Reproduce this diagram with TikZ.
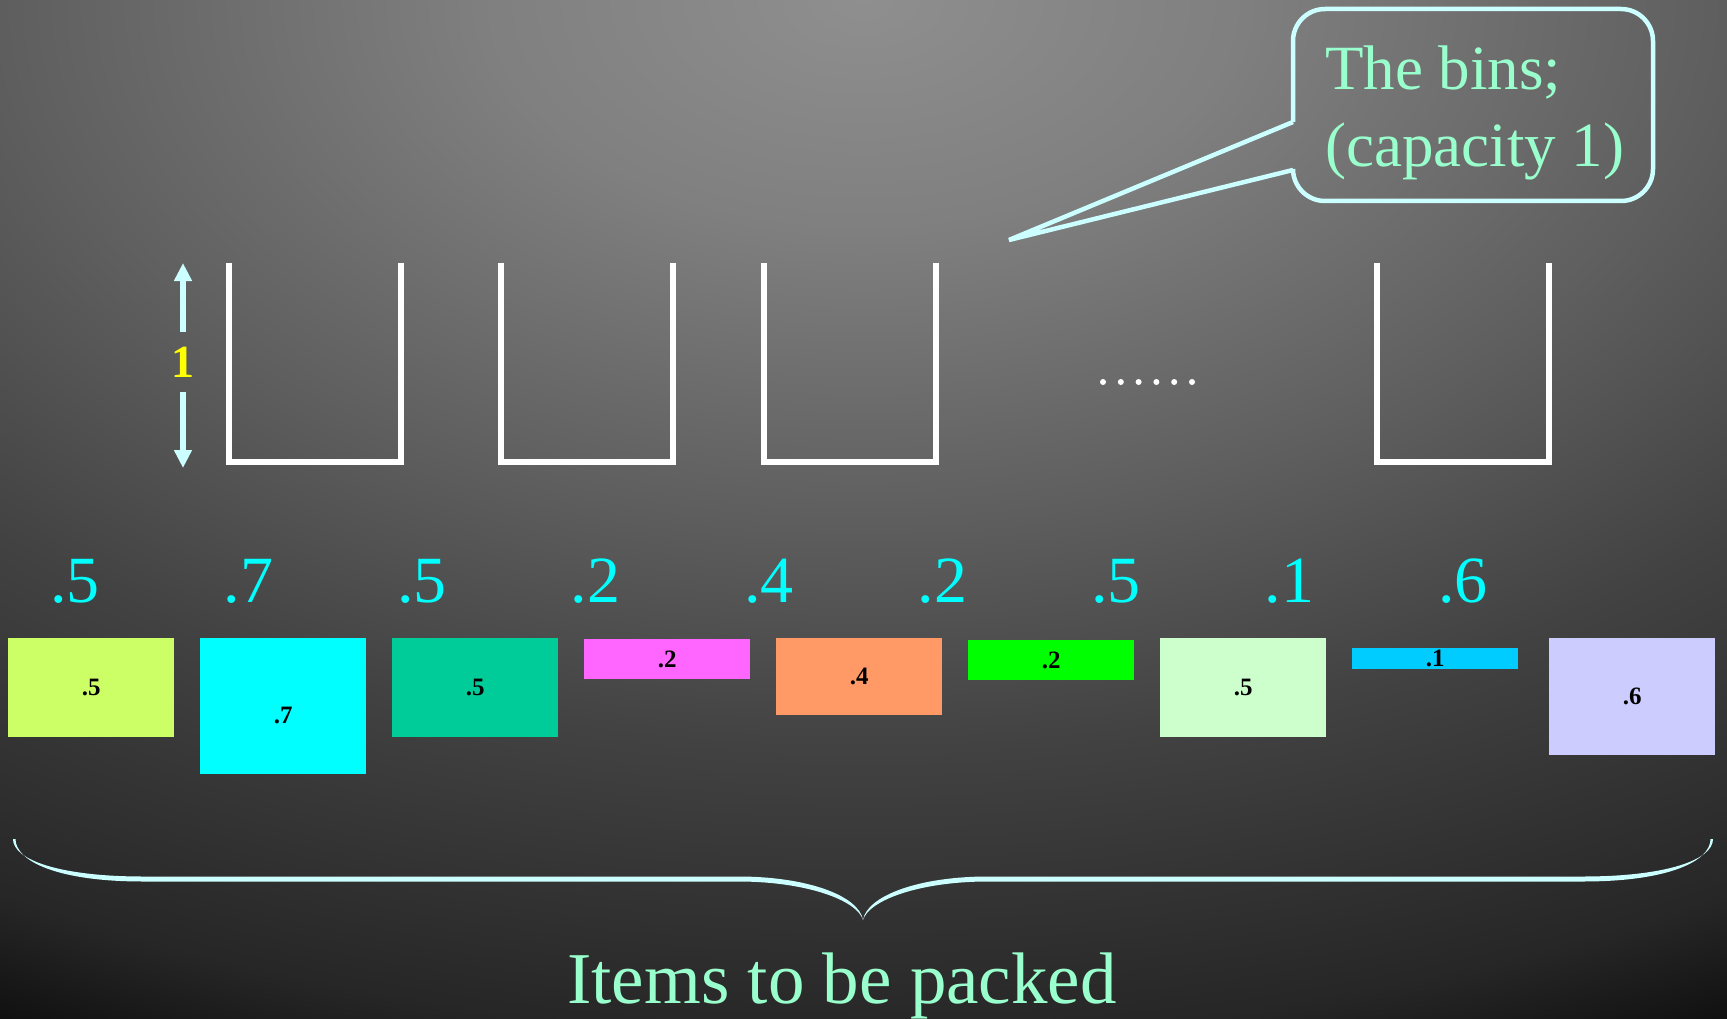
\documentclass[tikz,border=0pt]{standalone}
\usepackage{fontspec}
\setmainfont{Liberation Serif}
\usetikzlibrary{arrows.meta}

% palette
\definecolor{bgA}{rgb}{0.56,0.56,0.56}
\definecolor{bgB}{rgb}{0.50,0.50,0.50}
\definecolor{bgC}{rgb}{0.37,0.37,0.37}
\definecolor{bgD}{rgb}{0.26,0.26,0.26}
\definecolor{bgE}{rgb}{0.15,0.15,0.15}
\definecolor{bgF}{rgb}{0.06,0.06,0.06}
\definecolor{bgG}{rgb}{0.02,0.02,0.02}
\definecolor{capcyan}{HTML}{CCFFFF}
\definecolor{valcyan}{HTML}{00FFFF}
\definecolor{mintgreen}{HTML}{99FFCC}
\definecolor{capyellow}{HTML}{FFFF00}
\definecolor{itemA}{HTML}{CCFF66}
\definecolor{itemB}{HTML}{00FFFF}
\definecolor{itemC}{HTML}{00CC99}
\definecolor{itemD}{HTML}{FF66FF}
\definecolor{itemE}{HTML}{FF9966}
\definecolor{itemF}{HTML}{00FF00}
\definecolor{itemG}{HTML}{CCFFCC}
\definecolor{itemH}{HTML}{00CCFF}
\definecolor{itemI}{HTML}{CCCCFF}

% radial backdrop; the 25bp ring lands on the boundary of the shaded path
\pgfdeclareradialshading{backdrop}{\pgfpoint{0bp}{0bp}}{%
  color(0bp)=(bgA); color(4.5bp)=(bgB); color(10.25bp)=(bgC);
  color(14.75bp)=(bgD); color(20.5bp)=(bgE); color(22.75bp)=(bgF);
  color(25bp)=(bgG); color(50bp)=(bgG)}

\tikzset{
  binwall/.style={draw=white, line width=6.5pt, line join=miter},
  caparrow/.style={draw=capcyan, line width=6pt,
    -{Triangle[width=17pt,length=18pt]}},
  value/.style={text=valcyan, font=\fontsize{66}{70}\selectfont,
    inner sep=0pt, anchor=base},
  item/.style={anchor=north west, minimum width=166pt, inner sep=0pt,
    font=\bfseries\fontsize{25}{28}\selectfont, text=black},
  callout/.style={draw=capcyan, line width=4.5pt},
  mint/.style={text=mintgreen, inner sep=0pt},
}

\begin{document}
\begin{tikzpicture}[x=1pt, y=-1pt]
  \useasboundingbox (0,0) rectangle (1727,1019);

  % backdrop: light at the top centre, fading to black
  \begin{scope}
    \clip (0,0) rectangle (1727,1019);
    \shade[shading=backdrop] (863,0) ellipse [x radius=2090pt, y radius=1265pt];
  \end{scope}

  % the capacity marker
  \node[text=capyellow, font=\bfseries\fontsize{46}{50}\selectfont,
        inner xsep=0pt, inner ysep=15pt] (one) at (183,362) {1};
  \coordinate (captop) at (183,263);
  \coordinate (capbot) at (183,468);
  \draw[caparrow] (one.north) -- (captop);
  \draw[caparrow] (one.south) -- (capbot);

  % the bins
  \foreach \bx in {229,501,764,1377}
    \draw[binwall] (\bx,263) -- (\bx,462) -- (\bx+172,462) -- (\bx+172,263);

  % ellipsis between the bins
  \foreach \i in {0,...,5}
    \fill[white] (1103+17.8*\i,382) circle (3pt);

  % callout
  \draw[callout, rounded corners=32pt]
    (1293,122) -- (1293,9) -- (1653,9) -- (1653,201) -- (1293,201) -- (1293,170);
  \coordinate (tip) at (1009,240);
  \draw[callout, line join=miter] (1293,170) -- (tip) -- (1293,122);
  \node[mint, anchor=base west, font=\fontsize{63}{70}\selectfont]
    (binsA) at (1325,90) {The bins;};
  \node[mint, anchor=base west, font=\fontsize{63}{70}\selectfont]
    (binsB) at (1325,167) {(capacity 1)};

  % item sizes
  \node[value] (v1) at (75,602) {.5};
  \node[value] (v2) at (248.5,602) {.7};
  \node[value] (v3) at (422,602) {.5};
  \node[value] (v4) at (595.5,602) {.2};
  \node[value] (v5) at (769,602) {.4};
  \node[value] (v6) at (942.5,602) {.2};
  \node[value] (v7) at (1116,602) {.5};
  \node[value] (v8) at (1289.5,602) {.1};
  \node[value] (v9) at (1463,602) {.6};

  % items
  \node[item, fill=itemA, minimum height=99pt]  (i1) at (8,638)    {.5};
  \node[item, fill=itemB, minimum height=136pt] (i2) at (200,638)  {\raisebox{-17.5pt}[0pt][0pt]{.7}};
  \node[item, fill=itemC, minimum height=99pt]  (i3) at (392,638)  {.5};
  \node[item, fill=itemD, minimum height=40pt]  (i4) at (584,639)  {.2};
  \node[item, fill=itemE, minimum height=77pt]  (i5) at (776,638)  {.4};
  \node[item, fill=itemF, minimum height=40pt]  (i6) at (968,640)  {.2};
  \node[item, fill=itemG, minimum height=99pt]  (i7) at (1160,638) {.5};
  \node[item, fill=itemH, minimum height=21pt]  (i8) at (1352,648) {.1};
  \node[item, fill=itemI, minimum height=117pt] (i9) at (1549,638) {.6};

  % brace under the items
  \fill[capcyan]
    (13,839) .. controls (13,860) and (60,876.5) .. (143,876.5)
    -- (738,876.5) .. controls (808,876.5) and (859,896) .. (863,920)
    .. controls (857,900) and (806,881.5) .. (738,881.5)
    -- (143,881.5) .. controls (57,881.5) and (15.5,861) .. (15.5,839) -- cycle;
  \fill[capcyan]
    (1713,839) .. controls (1713,860) and (1666,876.5) .. (1583,876.5)
    -- (988,876.5) .. controls (918,876.5) and (867,896) .. (863,920)
    .. controls (869,900) and (920,881.5) .. (988,881.5)
    -- (1583,881.5) .. controls (1669,881.5) and (1710.5,861) .. (1710.5,839) -- cycle;

  \node[mint, anchor=base, font=\fontsize{73}{80}\selectfont]
    (items) at (842,1003) {Items to be packed};
\end{tikzpicture}
\end{document}
